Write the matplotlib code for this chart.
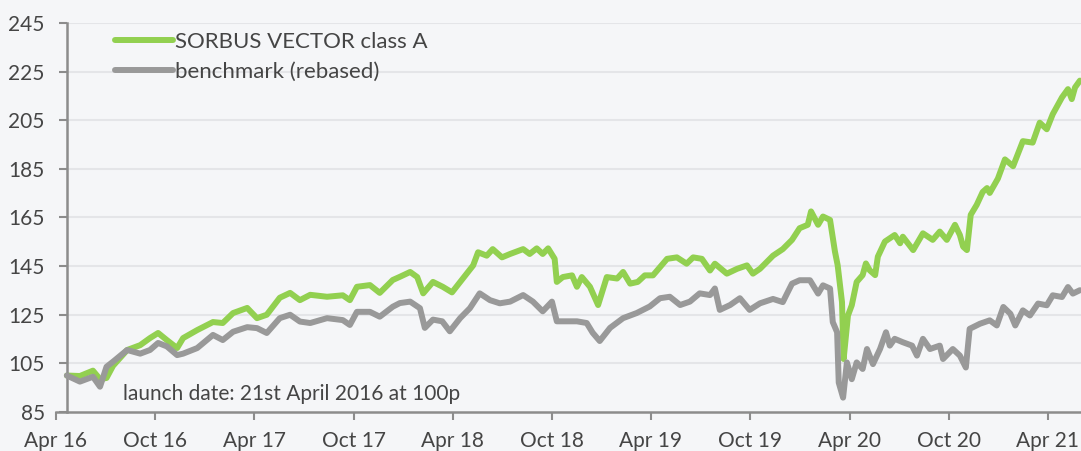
import matplotlib
matplotlib.use("Agg")
import matplotlib.pyplot as plt
import matplotlib.dates as mdates
import numpy as np
import pandas as pd

# ---------------- data ----------------
fund_dates = [
    "2016-04-21", "2016-05-15", "2016-06-08", "2016-06-21", "2016-07-03", "2016-07-15",
    "2016-08-10", "2016-09-03", "2016-09-21", "2016-10-06", "2016-10-22", "2016-11-10",
    "2016-11-21", "2016-12-17", "2017-01-15", "2017-02-02", "2017-02-21", "2017-03-19",
    "2017-04-06", "2017-04-24", "2017-05-18", "2017-06-06", "2017-06-24", "2017-07-13",
    "2017-08-13", "2017-09-11", "2017-09-24", "2017-10-07", "2017-10-31", "2017-11-18",
    "2017-12-12", "2017-12-25", "2018-01-13", "2018-01-26", "2018-02-06", "2018-02-24",
    "2018-03-14", "2018-03-31", "2018-04-20", "2018-05-09", "2018-05-18", "2018-06-03",
    "2018-06-14", "2018-07-01", "2018-07-16", "2018-08-09", "2018-08-21", "2018-09-03",
    "2018-09-14", "2018-09-24", "2018-10-06", "2018-10-10", "2018-10-21", "2018-11-07",
    "2018-11-16", "2018-11-25", "2018-12-10", "2018-12-25", "2019-01-10", "2019-01-29",
    "2019-02-09", "2019-02-22", "2019-03-08", "2019-03-21", "2019-04-05", "2019-05-01",
    "2019-05-19", "2019-06-06", "2019-06-18", "2019-07-04", "2019-07-19", "2019-07-28",
    "2019-08-19", "2019-09-07", "2019-09-25", "2019-10-06", "2019-10-19", "2019-11-12",
    "2019-11-30", "2019-12-17", "2019-12-31", "2020-01-15", "2020-01-21", "2020-02-03",
    "2020-02-12", "2020-02-25", "2020-03-05", "2020-03-10", "2020-03-18", "2020-03-21",
    "2020-03-29", "2020-04-05", "2020-04-14", "2020-04-25", "2020-05-01", "2020-05-08",
    "2020-05-18", "2020-05-23", "2020-06-05", "2020-06-23", "2020-07-03", "2020-07-08",
    "2020-07-27", "2020-08-14", "2020-09-01", "2020-09-14", "2020-09-27", "2020-10-12",
    "2020-10-21", "2020-10-27", "2020-11-03", "2020-11-10", "2020-11-21", "2020-12-02",
    "2020-12-10", "2020-12-15", "2020-12-30", "2021-01-12", "2021-01-27", "2021-02-14",
    "2021-03-04", "2021-03-17", "2021-03-30", "2021-04-10", "2021-04-27", "2021-05-08",
    "2021-05-15", "2021-05-21", "2021-05-30",
]
fund_values = [
    100.0, 99.8, 102.0, 98.5, 99.0, 104.0,
    110.5, 112.5, 115.4, 117.5, 114.6, 111.3,
    115.4, 118.7, 122.0, 121.6, 125.7, 127.8,
    123.6, 125.0, 132.0, 134.0, 131.0, 133.2,
    132.4, 133.0, 131.0, 136.5, 137.2, 134.0,
    139.3, 140.6, 142.6, 140.5, 133.8, 138.5,
    136.5, 134.2, 139.9, 145.3, 150.7, 149.3,
    152.0, 148.6, 150.0, 152.0, 150.0, 152.3,
    150.0, 152.3, 148.0, 138.5, 140.5, 141.2,
    136.5, 140.5, 136.5, 129.0, 140.5, 139.9,
    142.6, 137.8, 138.5, 141.2, 141.2, 148.0,
    148.6, 146.0, 148.6, 148.0, 143.2, 146.0,
    141.9, 143.9, 145.3, 141.9, 143.9, 149.3,
    152.0, 155.8, 160.6, 162.0, 167.5, 162.0,
    165.4, 164.0, 151.0, 145.4, 130.2, 106.8,
    124.7, 128.9, 138.5, 141.3, 146.1, 143.3,
    141.3, 148.9, 155.1, 157.8, 154.4, 157.1,
    151.6, 158.5, 155.8, 159.2, 155.8, 162.0,
    157.8, 153.0, 151.6, 166.1, 170.2, 175.5,
    177.1, 175.1, 181.0, 188.9, 186.1, 196.4,
    195.8, 204.0, 201.3, 207.5, 214.4, 217.8,
    213.7, 218.5, 221.3,
]

bench_dates = [
    "2016-04-21", "2016-05-15", "2016-06-08", "2016-06-21", "2016-07-03", "2016-07-15",
    "2016-08-10", "2016-09-03", "2016-09-21", "2016-10-06", "2016-10-22", "2016-11-10",
    "2016-11-21", "2016-12-17", "2017-01-15", "2017-02-02", "2017-02-21", "2017-03-19",
    "2017-04-06", "2017-04-24", "2017-05-18", "2017-06-06", "2017-06-24", "2017-07-13",
    "2017-08-13", "2017-09-11", "2017-09-24", "2017-10-07", "2017-10-31", "2017-11-18",
    "2017-12-12", "2017-12-25", "2018-01-13", "2018-01-31", "2018-02-09", "2018-02-24",
    "2018-03-13", "2018-03-27", "2018-04-15", "2018-05-03", "2018-05-21", "2018-06-09",
    "2018-06-27", "2018-07-16", "2018-08-09", "2018-08-27", "2018-09-14", "2018-10-01",
    "2018-10-10", "2018-10-29", "2018-11-16", "2018-12-04", "2018-12-15", "2018-12-28",
    "2019-01-16", "2019-02-09", "2019-03-06", "2019-03-30", "2019-04-18", "2019-05-06",
    "2019-05-25", "2019-06-12", "2019-06-30", "2019-07-19", "2019-07-28", "2019-08-06",
    "2019-08-25", "2019-09-12", "2019-09-30", "2019-10-19", "2019-11-12", "2019-11-30",
    "2019-12-08", "2019-12-17", "2019-12-31", "2020-01-19", "2020-02-03", "2020-02-12",
    "2020-02-25", "2020-03-01", "2020-03-09", "2020-03-12", "2020-03-20", "2020-03-27",
    "2020-04-05", "2020-04-14", "2020-04-25", "2020-05-03", "2020-05-14", "2020-05-27",
    "2020-06-07", "2020-06-14", "2020-06-23", "2020-07-08", "2020-07-25", "2020-08-03",
    "2020-08-14", "2020-08-27", "2020-09-14", "2020-09-20", "2020-10-08", "2020-10-21",
    "2020-11-01", "2020-11-08", "2020-11-27", "2020-12-15", "2020-12-28", "2021-01-09",
    "2021-01-22", "2021-01-31", "2021-02-14", "2021-02-27", "2021-03-14", "2021-03-30",
    "2021-04-10", "2021-04-27", "2021-05-08", "2021-05-17", "2021-05-30",
]
bench_values = [
    100.0, 97.5, 99.5, 95.4, 103.6, 105.7,
    110.5, 109.0, 110.5, 113.4, 112.0, 108.4,
    109.0, 111.3, 116.7, 114.6, 118.0, 119.9,
    119.5, 117.5, 123.6, 125.0, 122.2, 121.6,
    123.6, 122.8, 120.8, 126.2, 126.2, 124.2,
    128.3, 129.8, 130.4, 127.7, 119.6, 123.0,
    122.3, 118.2, 123.6, 127.7, 133.8, 131.0,
    129.7, 130.4, 133.1, 130.4, 126.4, 130.4,
    122.3, 122.3, 122.3, 121.6, 117.6, 114.2,
    119.6, 123.6, 125.7, 128.4, 131.8, 132.4,
    129.0, 130.4, 133.8, 133.1, 135.8, 127.0,
    129.0, 131.8, 127.0, 129.7, 131.5, 130.2,
    133.8, 137.8, 139.2, 139.2, 133.7, 137.1,
    135.8, 122.0, 117.8, 97.1, 90.9, 105.4,
    98.5, 105.4, 102.7, 110.9, 104.7, 110.9,
    117.8, 112.3, 115.1, 113.7, 112.3, 108.2,
    115.1, 110.9, 112.3, 106.8, 110.9, 108.2,
    103.3, 119.2, 121.3, 122.7, 120.6, 128.2,
    125.4, 120.6, 126.8, 124.7, 129.6, 128.9,
    133.0, 132.3, 136.4, 133.7, 135.1,
]

series_labels = ["SORBUS VECTOR class A", "benchmark (rebased)"]
y_ticks = [85, 105, 125, 145, 165, 185, 205, 225, 245]
x_tick_dates = ["2016-04-01", "2016-10-01", "2017-04-01", "2017-10-01", "2018-04-01",
                "2018-10-01", "2019-04-01", "2019-10-01", "2020-04-01", "2020-10-01",
                "2021-04-01"]
x_tick_labels = ["Apr 16", "Oct 16", "Apr 17", "Oct 17", "Apr 18", "Oct 18",
                 "Apr 19", "Oct 19", "Apr 20", "Oct 20", "Apr 21"]
launch_date = "2016-04-21"
note_text = "launch date: 21st April 2016 at 100p"

# ---------------- style ----------------
plt.rcParams['font.family'] = ['Lato', 'DejaVu Sans']
TEXT = '#454545'
GREEN = '#92d050'
GREY = '#999999'
BG = '#f5f6f8'

fig = plt.figure(figsize=(10.81, 4.51), dpi=100, facecolor=BG)
ax = fig.add_axes([56 / 1081, 1 - 412 / 451, 1 - 56 / 1081, (412 - 23) / 451])
ax.set_facecolor('none')

fd = pd.to_datetime(fund_dates)
bd = pd.to_datetime(bench_dates)
launch = pd.Timestamp(launch_date)
x_left = pd.Timestamp(x_tick_dates[0])
x_right = pd.Timestamp("2021-06-01")

# gridlines
ax.hlines(y_ticks[1:], launch, x_right, colors='#e4e5e8', linewidth=1.5, zorder=0)

l1, = ax.plot(fd, fund_values, color=GREEN, linewidth=4.3, solid_joinstyle='round',
              solid_capstyle='round', label=series_labels[0], zorder=2)
l2, = ax.plot(bd, bench_values, color=GREY, linewidth=4.3, solid_joinstyle='round',
              solid_capstyle='round', label=series_labels[1], zorder=3)

ax.set_xlim(x_left, x_right)
ax.set_ylim(y_ticks[0], y_ticks[-1])

ax.spines['top'].set_visible(False)
ax.spines['right'].set_visible(False)
ax.spines['left'].set_position(('data', mdates.date2num(launch)))
for s in ('left', 'bottom'):
    ax.spines[s].set_color('#8c8c8c')
    ax.spines[s].set_linewidth(1.8)

ax.set_yticks(y_ticks)
ax.set_yticklabels([str(v) for v in y_ticks])
ax.set_xticks(pd.to_datetime(x_tick_dates))
ax.set_xticklabels(x_tick_labels)
ax.tick_params(axis='y', length=6, width=1.5, color='#8c8c8c', pad=10,
               labelsize=15, labelcolor=TEXT)
ax.tick_params(axis='x', length=6, width=1.5, color='#8c8c8c', pad=8,
               labelsize=15, labelcolor=TEXT)

ax.text(pd.Timestamp("2016-08-02"), 92.3, note_text, fontsize=15, color=TEXT,
        va='center', ha='left')

leg = fig.legend(handles=[l1, l2], loc='upper left',
                 bbox_to_anchor=(115 / 1081, 1 - 32 / 451), frameon=False,
                 borderpad=0, borderaxespad=0, handlelength=2.6, handletextpad=0.12,
                 labelspacing=0.45, prop={'size': 16})
for t in leg.get_texts():
    t.set_color(TEXT)
for h in leg.get_lines():
    h.set_linewidth(4.3)
    h.set_solid_capstyle('round')

fig.savefig('out.png', dpi=100, facecolor=BG)
